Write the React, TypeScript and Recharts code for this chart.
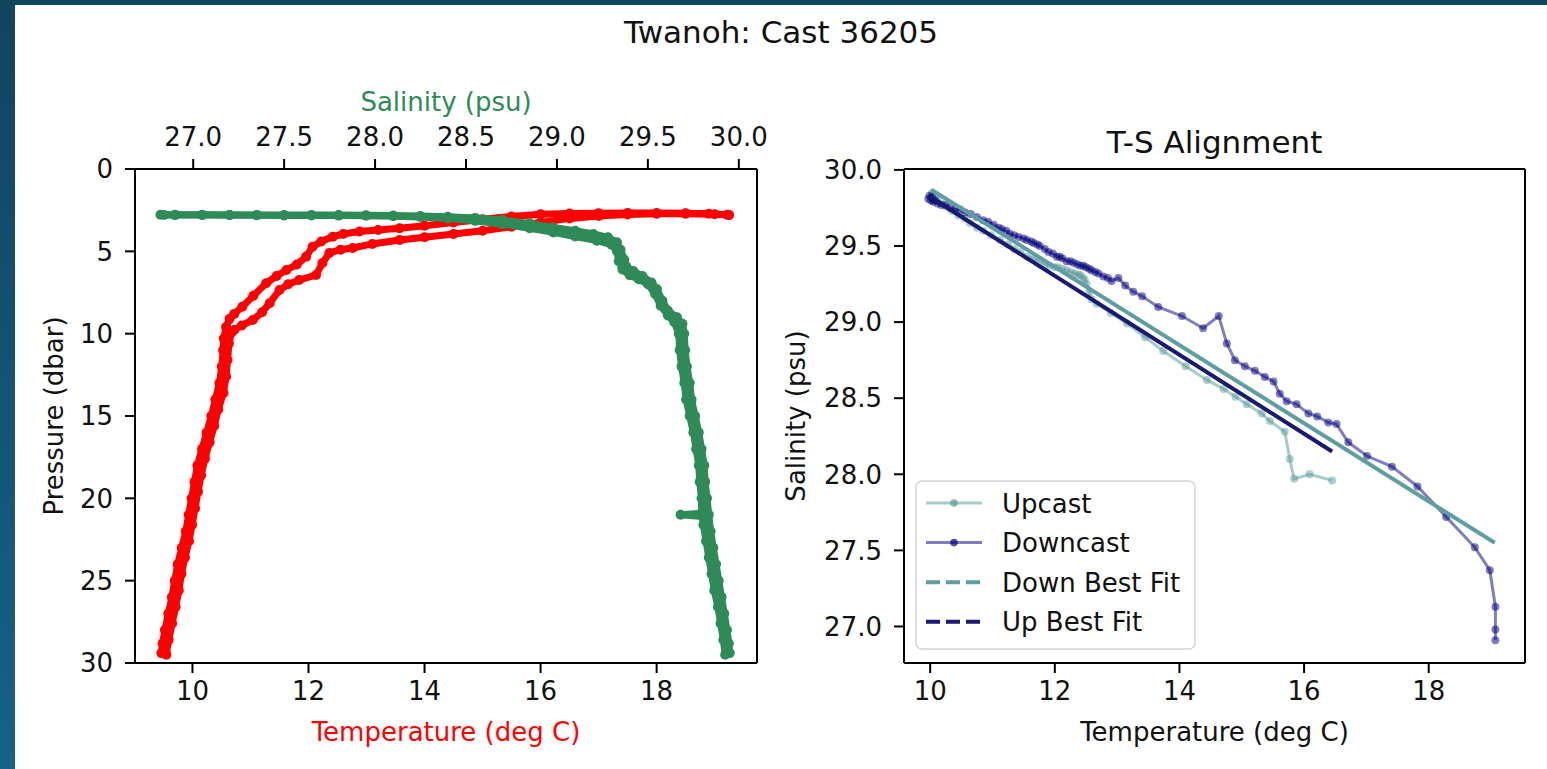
import React from 'react';
import { ScatterChart, Scatter, XAxis, YAxis, Legend, ReferenceLine } from 'recharts';

const FONT = '"DejaVu Sans", "Liberation Sans", sans-serif';
const INK = '#111111';

// ---- text ----
const figureTitle = 'Twanoh: Cast 36205';
const profileXLabel = 'Temperature (deg C)';
const profileTopLabel = 'Salinity (psu)';
const profileYLabel = 'Pressure (dbar)';
const tsTitle = 'T-S Alignment';
const tsXLabel = 'Temperature (deg C)';
const tsYLabel = 'Salinity (psu)';
const legendNames = ['Upcast', 'Downcast', 'Down Best Fit', 'Up Best Fit'];

// ---- ticks & axis ranges ----
const tempTicks = [10, 12, 14, 16, 18];
const salinityTopTicks = [27.0, 27.5, 28.0, 28.5, 29.0, 29.5, 30.0];
const pressureTicks = [0, 5, 10, 15, 20, 25, 30];
const tsTempTicks = [10, 12, 14, 16, 18];
const tsSalinityTicks = [27.0, 27.5, 28.0, 28.5, 29.0, 29.5, 30.0];
const profileTempRange = [9.01, 19.73];
const profileSalRange = [26.68, 30.1];
const pressureRange = [0, 30];
const tsTempRange = [9.58, 19.545];
const tsSalRange = [26.76, 30.006];

// ---- left panel: temperature profiles (deg C / dbar) ----
const tempCastA_T = [19.22, 18.9, 18.5, 18.0, 17.5, 17.0, 16.5, 16.0, 15.5, 15.0, 14.5, 14.0, 13.57, 13.2, 12.88, 12.6, 12.42, 12.22, 12.07, 11.96, 11.8, 11.62, 11.45, 11.27, 11.05, 10.86, 10.72, 10.64, 10.58, 10.54, 10.53, 10.505, 10.465, 10.395, 10.325, 10.245, 10.165, 10.085, 10.035, 9.985, 9.935, 9.885, 9.815, 9.745, 9.695, 9.645, 9.585, 9.525, 9.485, 9.465];
const tempCastA_P = [2.78, 2.72, 2.68, 2.67, 2.67, 2.68, 2.7, 2.75, 2.88, 3.05, 3.25, 3.45, 3.6, 3.7, 3.8, 3.95, 4.11, 4.4, 4.72, 5.32, 5.8, 6.13, 6.5, 6.94, 7.7, 8.36, 8.8, 9.1, 9.6, 10.3, 11.0, 12.0, 13.0, 14.0, 15.0, 16.0, 17.0, 18.0, 19.0, 20.0, 21.0, 22.0, 23.0, 24.0, 25.0, 26.0, 27.0, 28.0, 28.8, 29.4];
const tempCastB_T = [9.55, 9.59, 9.65, 9.71, 9.765, 9.81, 9.87, 9.94, 9.995, 10.045, 10.095, 10.15, 10.215, 10.295, 10.375, 10.445, 10.535, 10.58, 10.605, 10.63, 10.67, 10.72, 10.85, 11.04, 11.2, 11.33, 11.5, 11.65, 11.84, 12.13, 12.24, 12.36, 12.55, 12.76, 13.1, 13.57, 14.0, 14.5, 15.0, 15.5, 16.0, 16.5, 17.0, 17.5, 18.0, 18.5, 19.0, 19.25];
const tempCastB_P = [29.5, 28.6, 27.6, 26.6, 25.6, 24.6, 23.6, 22.6, 21.6, 20.6, 19.6, 18.6, 17.6, 16.6, 15.6, 14.6, 13.6, 12.6, 11.6, 10.6, 9.95, 9.78, 9.5, 9.17, 8.7, 8.15, 7.35, 7.0, 6.74, 6.44, 5.71, 5.1, 4.9, 4.8, 4.55, 4.31, 4.15, 3.95, 3.75, 3.5, 3.25, 3.0, 2.85, 2.76, 2.72, 2.72, 2.75, 2.8];

// ---- left panel: salinity profiles (psu / dbar) ----
const salCastA_S = [26.82, 26.9, 27.05, 27.2, 27.35, 27.5, 27.65, 27.8, 27.95, 28.1, 28.25, 28.4, 28.55, 28.7, 28.85, 28.98, 29.1, 29.2, 29.28, 29.33, 29.35, 29.37, 29.38, 29.42, 29.47, 29.52, 29.55, 29.58, 29.61, 29.66, 29.69, 29.7, 29.705, 29.715, 29.73, 29.74, 29.76, 29.78, 29.795, 29.81, 29.815, 29.825, 29.835, 29.845, 29.86, 29.875, 29.89, 29.905, 29.92, 29.935, 29.945, 29.95];
const salCastA_P = [2.78, 2.78, 2.78, 2.79, 2.79, 2.8, 2.8, 2.8, 2.81, 2.83, 2.86, 2.9, 2.97, 3.1, 3.3, 3.55, 3.75, 3.95, 4.15, 4.45, 4.9, 5.5, 5.9, 6.2, 6.5, 6.9, 7.3, 8.0, 8.6, 9.0, 9.4, 10.0, 11.0, 12.0, 13.0, 14.0, 15.0, 16.0, 17.0, 18.0, 19.0, 20.0, 21.0, 22.0, 23.0, 24.0, 25.0, 26.0, 27.0, 28.0, 28.8, 29.4];
const salCastB_S = [29.925, 29.915, 29.9, 29.885, 29.865, 29.85, 29.835, 29.82, 29.805, 29.8, 29.68, 29.795, 29.795, 29.785, 29.78, 29.765, 29.75, 29.73, 29.71, 29.7, 29.685, 29.675, 29.67, 29.645, 29.61, 29.57, 29.54, 29.5, 29.45, 29.4, 29.36, 29.34, 29.33, 29.3, 29.22, 29.1, 28.98, 28.85, 28.7, 28.55, 28.4, 28.25, 28.1, 27.95, 27.8, 27.65, 27.5, 27.35, 27.2, 27.05, 26.9, 26.84];
const salCastB_P = [29.5, 28.6, 27.6, 26.6, 25.6, 24.6, 23.6, 22.6, 21.6, 21.1, 21.0, 20.9, 20.0, 19.0, 18.0, 17.0, 16.0, 15.0, 14.0, 13.0, 12.0, 11.0, 10.0, 9.3, 8.9, 8.3, 7.6, 7.0, 6.7, 6.45, 6.1, 5.6, 5.0, 4.6, 4.35, 4.1, 3.85, 3.6, 3.35, 3.15, 3.0, 2.92, 2.87, 2.84, 2.83, 2.82, 2.82, 2.81, 2.8, 2.8, 2.8, 2.79];

// ---- right panel: T-S ----
const upcastT = [10.03, 10.07, 10.12, 10.18, 10.25, 10.35, 10.45, 10.55, 10.64, 10.75, 10.85, 10.98, 11.12, 11.25, 11.35, 11.45, 11.55, 11.65, 11.75, 11.85, 11.92, 12.0, 12.05, 12.12, 12.19, 12.26, 12.32, 12.38, 12.41, 12.45, 12.48, 12.51, 12.55, 12.59, 12.67, 12.9, 13.16, 13.45, 13.74, 14.1, 14.44, 14.71, 14.9, 15.08, 15.32, 15.45, 15.69, 15.77, 15.84, 16.09, 16.45];
const upcastS = [29.85, 29.82, 29.8, 29.78, 29.76, 29.73, 29.7, 29.68, 29.65, 29.62, 29.6, 29.57, 29.54, 29.51, 29.48, 29.46, 29.43, 29.42, 29.4, 29.38, 29.37, 29.36, 29.36, 29.35, 29.34, 29.33, 29.32, 29.31, 29.31, 29.29, 29.28, 29.25, 29.2, 29.15, 29.12, 29.06, 28.99, 28.9, 28.81, 28.71, 28.62, 28.56, 28.51, 28.46, 28.4, 28.35, 28.28, 28.1, 27.97, 28.0, 27.96];
const downcastT = [9.97, 9.99, 10.01, 10.03, 10.05, 10.08, 10.12, 10.18, 10.25, 10.32, 10.4, 10.48, 10.56, 10.65, 10.75, 10.85, 10.93, 11.02, 11.1, 11.15, 11.22, 11.28, 11.35, 11.42, 11.5, 11.55, 11.62, 11.66, 11.72, 11.76, 11.84, 11.9, 11.97, 12.03, 12.08, 12.12, 12.19, 12.25, 12.3, 12.36, 12.41, 12.46, 12.5, 12.55, 12.59, 12.65, 12.7, 12.78, 12.85, 12.91, 13.02, 13.13, 13.26, 13.4, 13.66, 14.04, 14.38, 14.63, 14.76, 14.89, 15.05, 15.21, 15.37, 15.51, 15.61, 15.72, 15.88, 16.07, 16.21, 16.39, 16.52, 16.71, 17.01, 17.41, 17.82, 18.28, 18.74, 18.98, 19.07, 19.07, 19.07];
const downcastS = [29.81, 29.83, 29.8, 29.82, 29.79, 29.8, 29.78, 29.77, 29.77, 29.75, 29.74, 29.74, 29.72, 29.71, 29.69, 29.67, 29.66, 29.64, 29.62, 29.61, 29.6, 29.58, 29.57, 29.56, 29.55, 29.54, 29.53, 29.52, 29.51, 29.5, 29.48, 29.46, 29.45, 29.43, 29.43, 29.42, 29.4, 29.4, 29.39, 29.38, 29.37, 29.37, 29.36, 29.35, 29.34, 29.33, 29.32, 29.3, 29.29, 29.27, 29.29, 29.24, 29.2, 29.17, 29.1, 29.04, 28.96, 29.04, 28.86, 28.75, 28.71, 28.68, 28.64, 28.61, 28.53, 28.48, 28.46, 28.4, 28.38, 28.34, 28.33, 28.21, 28.12, 28.05, 27.92, 27.72, 27.52, 27.37, 27.13, 26.98, 26.91];
const downFitT = [10.02, 19.06];
const downFitS = [29.87, 27.55];
const upFitT = [9.97, 16.45];
const upFitS = [29.83, 28.15];

const zip = (a: number[], b: number[], ka: string, kb: string) =>
  a.map((v, i) => ({ [ka]: v, [kb]: b[i] }));

const redA = zip(tempCastA_T, tempCastA_P, 't', 'p');
const redB = zip(tempCastB_T, tempCastB_P, 't', 'p');
const greenA = zip(salCastA_S, salCastA_P, 's', 'p');
const greenB = zip(salCastB_S, salCastB_P, 's', 'p');
const upData = zip(upcastT, upcastS, 't', 's');
const downData = zip(downcastT, downcastS, 't', 's');
const downFitData = zip(downFitT, downFitS, 't', 's');
const upFitData = zip(upFitT, upFitS, 't', 's');

// ---- styles ----
const RED = '#ff0000';
const GREEN = '#2e8b57';
const CADET = '#5f9ea0';
const NAVY = '#000080';
const MIDNIGHT = '#191970';

const tickStyle = { fontSize: 26, fill: INK, fontFamily: FONT };
const tickLineStyle = { stroke: '#000', strokeWidth: 2 };
const axisLineStyle = { stroke: '#000', strokeWidth: 2 };

const dotShape = (r: number, color: string, opacity = 1) => (p: any) => {
  if (p == null || p.cx == null || p.cy == null) return <g />;
  return <circle cx={p.cx} cy={p.cy} r={r} fill={color} fillOpacity={opacity} />;
};
const noShape = () => <g />;

const axisText = (text: string, x: number, y: number, color: string, size = 26, rotate = false) => () => (
  <text
    x={x}
    y={y}
    textAnchor="middle"
    fill={color}
    fontSize={size}
    fontFamily={FONT}
    transform={rotate ? `rotate(-90 ${x} ${y})` : undefined}
  >
    {text}
  </text>
);

const legendStyles = [
  { color: CADET, opacity: 0.55, dashed: false, marker: true, width: 3 },
  { color: NAVY, opacity: 0.5, dashed: false, marker: true, width: 3 },
  { color: CADET, opacity: 1, dashed: true, marker: false, width: 4 },
  { color: MIDNIGHT, opacity: 1, dashed: true, marker: false, width: 4 },
];

const TsLegend = () => (
  <svg width={281} height={170} style={{ display: 'block' }}>
    <rect x={1} y={1} width={279} height={168} rx={6} ry={6} fill="#ffffff" fillOpacity={0.8} stroke="#d4d4d4" strokeWidth={1.5} />
    {legendNames.map((name, i) => {
      const st = legendStyles[i];
      const y = 23 + i * 39.6;
      return (
        <g key={name}>
          <line
            x1={11}
            x2={67}
            y1={y}
            y2={y}
            stroke={st.color}
            strokeOpacity={st.opacity}
            strokeWidth={st.width}
            strokeDasharray={st.dashed ? '14 6' : undefined}
          />
          {st.marker && <circle cx={39} cy={y} r={3.8} fill={st.color} fillOpacity={Math.min(1, st.opacity + 0.2)} />}
          <text x={87} y={y + 9.5} fontSize={26} fontFamily={FONT} fill={INK}>
            {name}
          </text>
        </g>
      );
    })}
  </svg>
);

const PROFILE_LINE = 7;
const PROFILE_DOT = 5;

export default function App() {
  return (
    <div
      style={{
        position: 'fixed',
        left: 0,
        top: 0,
        width: 1547,
        height: 769,
        overflow: 'hidden',
        background: 'linear-gradient(180deg, #10455e 0%, #17618a 100%)',
      }}
    >
      <div style={{ position: 'absolute', left: 15, top: 5, right: 0, bottom: 0, background: '#ffffff' }} />
      <svg style={{ position: 'absolute', left: 0, top: 0 }} width={1547} height={769}>
        <text x={781} y={43} textAnchor="middle" fontSize={31} fontFamily={FONT} fill={INK}>
          {figureTitle}
        </text>
        <text x={1214.5} y={153} textAnchor="middle" fontSize={31} fontFamily={FONT} fill={INK}>
          {tsTitle}
        </text>
      </svg>

      <div style={{ position: 'absolute', left: 0, top: 0 }}>
        <ScatterChart width={800} height={769} margin={{ top: 129, right: 43, bottom: 66, left: 75 }}>
          <XAxis
            xAxisId="temp"
            dataKey="t"
            type="number"
            orientation="bottom"
            height={40}
            domain={profileTempRange}
            allowDataOverflow
            ticks={tempTicks}
            interval={0}
            tickSize={10}
            tickMargin={9}
            tick={tickStyle}
            tickLine={tickLineStyle}
            axisLine={axisLineStyle}
            label={axisText(profileXLabel, 446, 741, RED)}
          />
          <XAxis
            xAxisId="sal"
            dataKey="s"
            type="number"
            orientation="top"
            height={40}
            domain={profileSalRange}
            allowDataOverflow
            ticks={salinityTopTicks}
            interval={0}
            tickSize={10}
            tickMargin={13}
            tick={tickStyle}
            tickLine={tickLineStyle}
            axisLine={axisLineStyle}
            tickFormatter={(v: number) => v.toFixed(1)}
            label={axisText(profileTopLabel, 446, 111, GREEN)}
          />
          <YAxis
            yAxisId="p"
            dataKey="p"
            type="number"
            reversed
            width={60}
            domain={pressureRange}
            allowDataOverflow
            ticks={pressureTicks}
            interval={0}
            tickSize={10}
            tickMargin={12}
            tick={tickStyle}
            tickLine={tickLineStyle}
            axisLine={axisLineStyle}
            label={axisText(profileYLabel, 63, 416, INK, 26, true)}
          />
          <ReferenceLine xAxisId="temp" yAxisId="p" x={profileTempRange[1]} stroke="#000" strokeWidth={2} />
          <Scatter xAxisId="temp" yAxisId="p" data={redA} line={{ stroke: RED, strokeWidth: PROFILE_LINE }} shape={dotShape(PROFILE_DOT, RED)} isAnimationActive={false} />
          <Scatter xAxisId="temp" yAxisId="p" data={redB} line={{ stroke: RED, strokeWidth: PROFILE_LINE }} shape={dotShape(PROFILE_DOT, RED)} isAnimationActive={false} />
          <Scatter xAxisId="sal" yAxisId="p" data={greenA} line={{ stroke: GREEN, strokeWidth: PROFILE_LINE }} shape={dotShape(PROFILE_DOT, GREEN)} isAnimationActive={false} />
          <Scatter xAxisId="sal" yAxisId="p" data={greenB} line={{ stroke: GREEN, strokeWidth: PROFILE_LINE }} shape={dotShape(PROFILE_DOT, GREEN)} isAnimationActive={false} />
        </ScatterChart>
      </div>

      <div style={{ position: 'absolute', left: 780, top: 0 }}>
        <ScatterChart width={767} height={769} margin={{ top: 169, right: 22, bottom: 66, left: 44 }}>
          <XAxis
            xAxisId="t"
            dataKey="t"
            type="number"
            orientation="bottom"
            height={40}
            domain={tsTempRange}
            allowDataOverflow
            ticks={tsTempTicks}
            interval={0}
            tickSize={10}
            tickMargin={9}
            tick={tickStyle}
            tickLine={tickLineStyle}
            axisLine={axisLineStyle}
            label={axisText(tsXLabel, 434.5, 741, INK)}
          />
          <YAxis
            yAxisId="s"
            dataKey="s"
            type="number"
            width={80}
            domain={tsSalRange}
            allowDataOverflow
            ticks={tsSalinityTicks}
            interval={0}
            tickSize={10}
            tickMargin={12}
            tick={tickStyle}
            tickLine={tickLineStyle}
            axisLine={axisLineStyle}
            tickFormatter={(v: number) => v.toFixed(1)}
            label={axisText(tsYLabel, 25, 416, INK, 26, true)}
          />
          <ReferenceLine xAxisId="t" yAxisId="s" x={tsTempRange[1]} stroke="#000" strokeWidth={2} />
          <ReferenceLine xAxisId="t" yAxisId="s" y={tsSalRange[1]} stroke="#000" strokeWidth={2} />
          <Scatter name={legendNames[0]} xAxisId="t" yAxisId="s" data={upData} line={{ stroke: CADET, strokeWidth: 3, strokeOpacity: 0.55 }} shape={dotShape(4, CADET, 0.5)} isAnimationActive={false} />
          <Scatter name={legendNames[1]} xAxisId="t" yAxisId="s" data={downData} line={{ stroke: NAVY, strokeWidth: 3, strokeOpacity: 0.5 }} shape={dotShape(4, NAVY, 0.5)} isAnimationActive={false} />
          <Scatter name={legendNames[2]} xAxisId="t" yAxisId="s" data={downFitData} line={{ stroke: CADET, strokeWidth: 4 }} shape={noShape} isAnimationActive={false} />
          <Scatter name={legendNames[3]} xAxisId="t" yAxisId="s" data={upFitData} line={{ stroke: MIDNIGHT, strokeWidth: 4 }} shape={noShape} isAnimationActive={false} />
          <Legend
            layout="vertical"
            align="center"
            verticalAlign="middle"
            wrapperStyle={{ left: 135, top: 480, width: 281, height: 170 }}
            content={() => <TsLegend />}
          />
        </ScatterChart>
      </div>
    </div>
  );
}
